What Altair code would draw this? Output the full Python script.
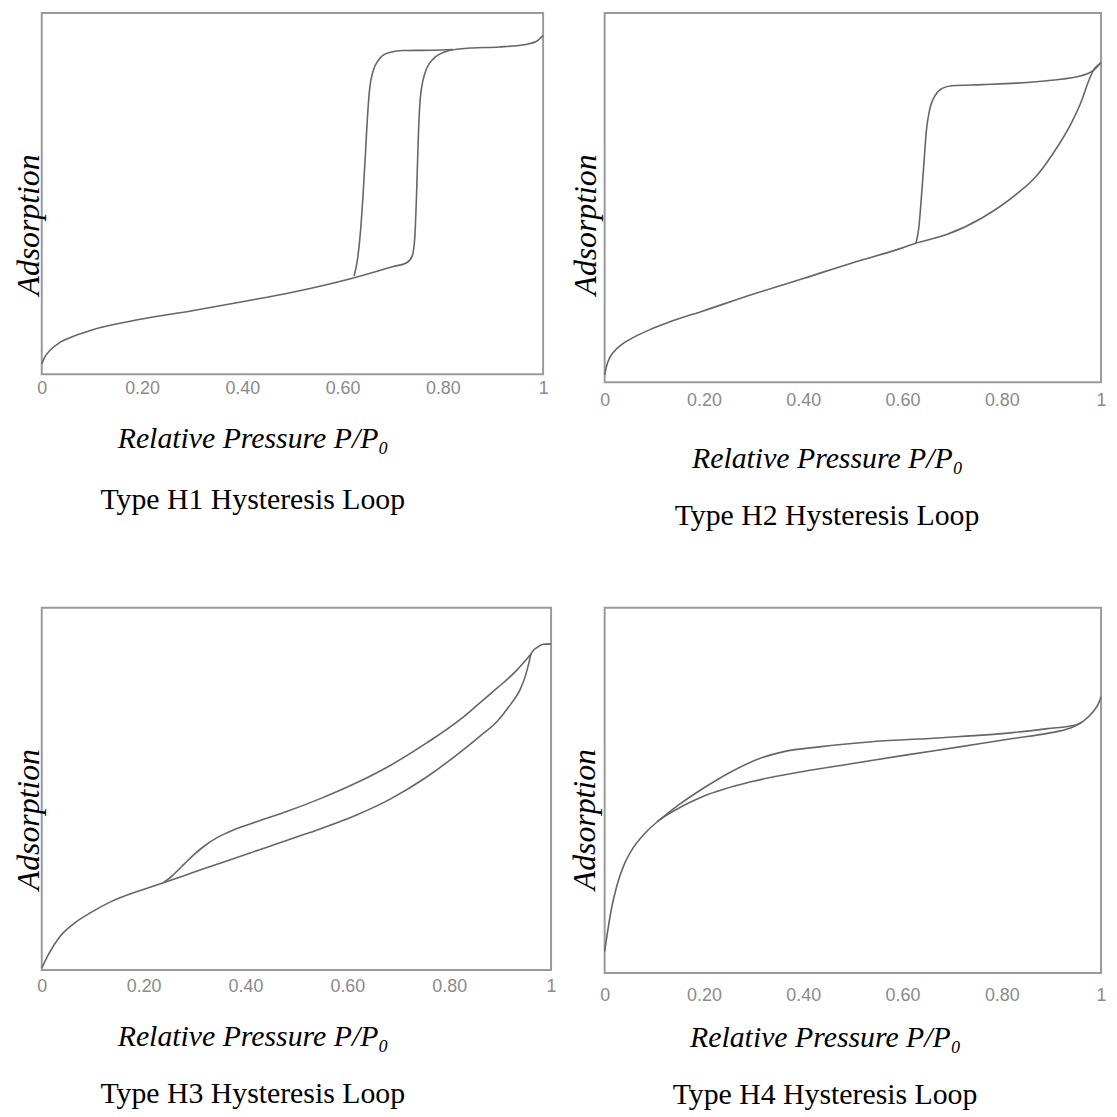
import altair as alt
import pandas as pd

# ---------------- data (y = % of frame height) -------------
h1_ads_x = [0.0, 0.006, 0.016, 0.037, 0.066, 0.10, 0.20, 0.30, 0.40, 0.50, 0.60, 0.70, 0.728,
            0.739, 0.744, 0.748, 0.751, 0.755, 0.764, 0.781, 0.813, 0.855, 0.912, 0.961, 0.986, 1.0]
h1_ads_y = [2.9, 4.8, 6.6, 8.9, 10.7, 12.3, 15.3, 17.6, 20.1, 22.7, 25.9, 29.8, 30.9,
            32.8, 37.8, 51.6, 65.3, 76.3, 83.2, 87.3, 89.6, 90.3, 90.6, 91.2, 92.1, 93.8]
h1_des_x = [0.623, 0.630, 0.636, 0.641, 0.646, 0.650, 0.654, 0.661, 0.672, 0.690, 0.72, 0.78, 0.82]
h1_des_y = [27.2, 32.0, 40.0, 50.0, 62.0, 72.0, 79.0, 84.0, 87.0, 88.9, 89.6, 89.7, 89.9]

h2_ads_x = [0.0, 0.004, 0.01, 0.02, 0.035, 0.06, 0.09, 0.13, 0.2, 0.3, 0.4, 0.5, 0.6, 0.625,
            0.689, 0.760, 0.832, 0.868, 0.903, 0.939, 0.961, 0.975, 0.986, 0.996, 1.0]
h2_ads_y = [2.0, 4.5, 6.6, 8.5, 10.3, 12.3, 14.2, 16.3, 19.4, 23.9, 28.1, 32.4, 36.4, 37.6,
            40.0, 44.5, 51.2, 55.6, 61.9, 69.9, 76.3, 81.6, 84.8, 86.1, 86.6]
h2_des_x = [0.627, 0.633, 0.638, 0.643, 0.648, 0.655, 0.665, 0.68, 0.70, 0.76, 0.83, 0.90,
            0.96, 0.985, 1.0]
h2_des_y = [37.6, 42.0, 50.0, 59.0, 68.0, 74.0, 77.5, 79.6, 80.3, 80.6, 81.0, 81.8,
            83.0, 84.5, 86.6]

h3_ads_x = [0.0, 0.014, 0.035, 0.062, 0.097, 0.132, 0.201, 0.239, 0.305, 0.409, 0.513, 0.617,
            0.686, 0.755, 0.825, 0.86, 0.894, 0.922, 0.939, 0.949, 0.956, 0.961, 0.972, 0.985, 1.0]
h3_ads_y = [0.5, 4.5, 9.1, 12.7, 15.9, 18.6, 22.3, 24.1, 27.3, 32.3, 37.3, 42.7,
            47.3, 53.2, 60.5, 64.5, 68.6, 73.6, 77.3, 80.9, 84.5, 87.3, 89.0, 89.9, 90.0]
h3_des_x = [0.239, 0.256, 0.28, 0.30, 0.32, 0.345, 0.375, 0.409, 0.44, 0.478, 0.547, 0.617,
            0.686, 0.755, 0.825, 0.859, 0.894, 0.929, 0.961]
h3_des_y = [24.1, 26.0, 29.3, 32.0, 34.3, 36.6, 38.6, 40.3, 41.8, 43.6, 47.3, 51.6,
            56.6, 62.6, 69.5, 73.6, 77.8, 82.2, 87.3]

h4_ads_x = [0.0, 0.007, 0.014, 0.025, 0.039, 0.057, 0.078, 0.106, 0.149, 0.198, 0.297, 0.397,
            0.503, 0.609, 0.715, 0.822, 0.892, 0.935, 0.963, 0.984, 0.995, 1.0]
h4_ads_y = [5.9, 12.3, 17.8, 24.1, 29.6, 34.2, 37.8, 41.4, 45.1, 48.3, 52.4, 55.1,
            57.4, 59.7, 61.9, 64.2, 65.6, 66.9, 68.8, 71.5, 73.8, 75.6]
h4_des_x = [0.106, 0.149, 0.198, 0.255, 0.312, 0.361, 0.432, 0.538, 0.680, 0.822, 0.892,
            0.949, 0.963]
h4_des_y = [41.4, 46.0, 50.5, 55.1, 58.7, 60.6, 61.9, 63.3, 64.4, 65.8, 66.9,
            67.9, 68.8]

tick_values = [0, 0.2, 0.4, 0.6, 0.8, 1]
panel_titles = ["Type H1 Hysteresis Loop", "Type H2 Hysteresis Loop",
                "Type H3 Hysteresis Loop", "Type H4 Hysteresis Loop"]
x_title = "Relative Pressure P/P\u2080"
y_title = "Adsorption"

SERIF = "Liberation Serif"
SANS = "Liberation Sans"


def frame(ax, ay, dx, dy):
    rows = []
    for x, y in zip(ax, ay):
        rows.append({"x": x, "y": y, "branch": "adsorption"})
    for x, y in zip(dx, dy):
        rows.append({"x": x, "y": y, "branch": "desorption"})
    return pd.DataFrame(rows)


def panel(df, title, w, h, ytx, xty, toff, shift, lpad):
    return alt.Chart(df).mark_line(
        interpolate="monotone", color="#666666", strokeWidth=1.6
    ).encode(
        x=alt.X("x:Q",
                scale=alt.Scale(domain=[0, 1], nice=False, zero=False),
                axis=alt.Axis(values=tick_values,
                              labelExpr="datum.value == 0 ? '0' : datum.value == 1 ? '1' : format(datum.value, '.2f')",
                              grid=False, ticks=False, domain=False,
                              labelFont=SANS, labelFontSize=18, labelColor="#8a8a8a",
                              labelPadding=lpad, labelFlush=False, labelOverlap=False,
                              title=x_title, titleFont=SERIF, titleFontStyle="italic",
                              titleFontWeight="normal", titleFontSize=30, titleColor="#000000",
                              titleX=w / 2 + shift, titleY=xty, titleAlign="center",
                              titleBaseline="alphabetic")),
        y=alt.Y("y:Q",
                scale=alt.Scale(domain=[0, 100], nice=False, zero=False),
                axis=alt.Axis(labels=False, ticks=False, domain=False, grid=False,
                              title=y_title, titleFont=SERIF, titleFontStyle="italic",
                              titleFontWeight="normal", titleFontSize=32, titleColor="#000000",
                              titleAngle=270, titleX=ytx, titleY=213, titleAlign="center",
                              titleBaseline="alphabetic")),
        detail="branch:N",
    ).properties(
        width=w, height=h,
        title=alt.TitleParams(title, orient="bottom", font=SERIF, fontSize=30,
                              fontWeight="normal", color="#000000", dx=shift,
                              offset=toff, baseline="alphabetic"),
    )


p1 = panel(frame(h1_ads_x, h1_ads_y, h1_des_x, h1_des_y), panel_titles[0],
           505, 364, -3, 74, 56, -40, 5)
p2 = panel(frame(h2_ads_x, h2_ads_y, h2_des_x, h2_des_y), panel_titles[1],
           500, 372, -9, 86, 52, -26, 9)
p3 = panel(frame(h3_ads_x, h3_ads_y, h3_des_x, h3_des_y), panel_titles[2],
           513, 365, -3, 76, 52, -44, 8)
p4 = panel(frame(h4_ads_x, h4_ads_y, h4_des_x, h4_des_y), panel_titles[3],
           500, 368, -10, 74, 52, -28, 14)

chart = alt.concat(
    p1, p2, p3, p4, columns=2, spacing={"row": 227, "column": 54}, bounds="flush"
).properties(
    padding={"left": 4, "top": 0, "right": 1, "bottom": 1},
    background="white",
).configure_view(
    stroke="#9a9a9a", strokeWidth=2
)

chart.save("out.html", embed_options={"renderer": "svg", "actions": False})
